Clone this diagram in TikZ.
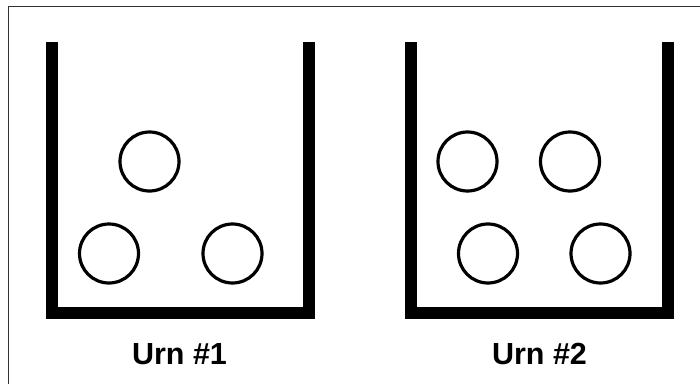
\documentclass[tikz,border=0pt]{standalone}
\usepackage{fontspec}
\setmainfont{Liberation Sans}
\begin{document}
\begin{tikzpicture}[x=1pt,y=-1pt,
  ball/.style={circle,draw=black,line width=3.2pt,minimum size=59pt,inner sep=0pt},
  urnwall/.style={draw=black,line width=12pt,line join=miter,line cap=butt},
  urnlabel/.style={anchor=base,font=\fontsize{30.5}{36}\selectfont\bfseries,inner sep=0pt}]
\useasboundingbox (0,0) rectangle (700,383);
\draw[gray!40!black,line width=1.2pt] (8.5,6.5) rectangle (720,400);
% urn 1
\draw[urnwall] (52,42) -- (52,313) -- (309,313) -- (309,42);
\node[ball] (a1) at (149.5,161.5) {};
\node[ball] (a2) at (109,253.5) {};
\node[ball] (a3) at (232.5,253.5) {};
\node[urnlabel] (l1) at (179.5,364) {Urn \#1};
% urn 2
\draw[urnwall] (411,42) -- (411,313) -- (667.5,313) -- (667.5,42);
\node[ball] (b1) at (467.5,161.5) {};
\node[ball] (b2) at (570,161.5) {};
\node[ball] (b3) at (488,253.5) {};
\node[ball] (b4) at (600.5,253.5) {};
\node[urnlabel] (l2) at (539.5,364) {Urn \#2};
\end{tikzpicture}
\end{document}
